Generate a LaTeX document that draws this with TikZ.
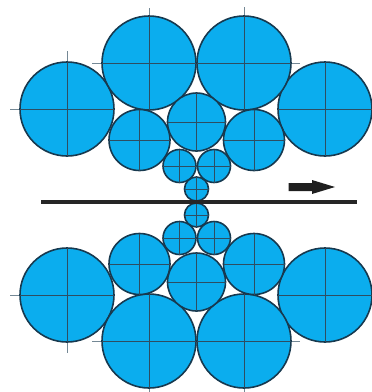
\documentclass[tikz,border=0pt]{standalone}
\usetikzlibrary{arrows.meta}
\definecolor{rollfill}{HTML}{0BADEE}
\definecolor{rollline}{HTML}{17394F}
\tikzset{
 roll/.style={fill=rollfill,draw=rollline,line width=1.6pt},
 axisline/.style={draw=rollline!90,line width=1pt},
 stub/.style={draw=rollline!60,line width=1pt}
}
\newcommand{\rollc}[3]{%
 \path[roll] (#1,#2) circle[radius=#3];
 \draw[axisline] (#1-#3,#2) -- (#1+#3,#2);
 \draw[axisline] (#1,#2-#3) -- (#1,#2+#3);
}
\begin{document}
\begin{tikzpicture}[x=1bp,y=-1bp]
\useasboundingbox (0,0) rectangle (372,392);
% stubs
\draw[stub] (10,109) -- (30,109) (67.5,51) -- (67.5,70);
\draw[stub] (92,63) -- (110,63) (149,8) -- (149,25);
\draw[stub] (244,7) -- (244,25) (280,63) -- (300,63);
\draw[stub] (10,295) -- (30,295) (67.5,330) -- (67.5,353);
\draw[stub] (92,341) -- (110,341) (149,370) -- (149,392);
\draw[stub] (244,370) -- (244,392) (280,341) -- (300,341);
% upper set
\rollc{67}{109}{47}
\rollc{325}{109}{47}
\rollc{149}{63}{47}
\rollc{244}{63}{47}
\rollc{139.5}{140}{30.5}
\rollc{254}{140}{30.5}
\rollc{196.5}{122}{29}
\rollc{179.5}{166}{16.5}
\rollc{214}{166}{16.5}
\rollc{196.5}{189}{12}
% lower set
\rollc{67}{295}{47}
\rollc{325}{295}{47}
\rollc{149}{341}{47}
\rollc{244}{341}{47}
\rollc{139.5}{264}{30.5}
\rollc{254}{264}{30.5}
\rollc{196.5}{282}{29}
\rollc{179.5}{238}{16.5}
\rollc{214}{238}{16.5}
\rollc{196.5}{215}{12}
% strip
\draw[line width=3.2pt,draw=black!85] (41,202) -- (357,202);
% direction arrow
\fill[black!88] (288.5,183) -- (312,183) -- (312,180) -- (335,187) -- (312,194) -- (312,191) -- (288.5,191) -- cycle;
\end{tikzpicture}
\end{document}
